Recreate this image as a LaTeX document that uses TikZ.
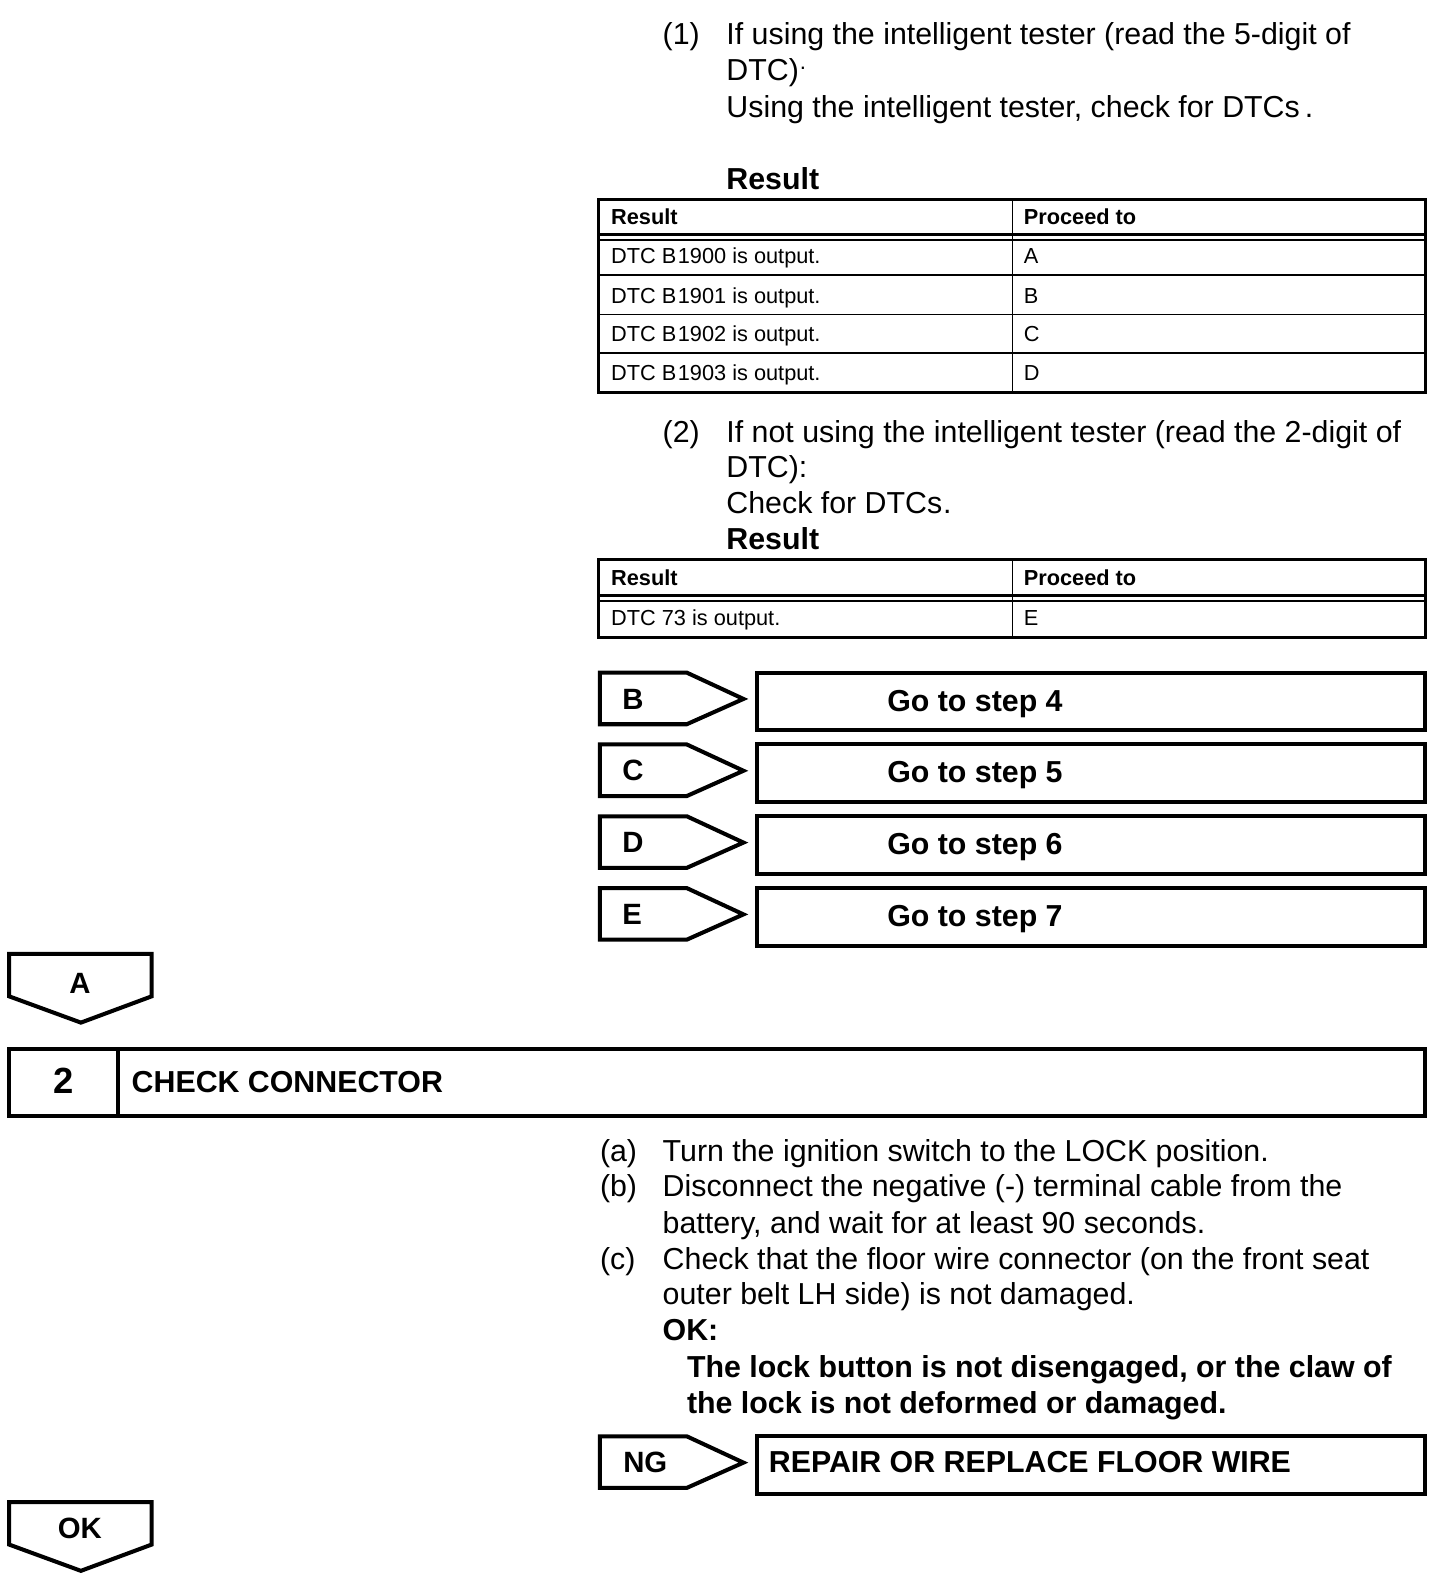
\documentclass[tikz,border=0pt]{standalone}
\usepackage{fontspec}
\setmainfont{Liberation Sans}
\begin{document}
\begin{tikzpicture}[x=1pt,y=-1pt,
  body/.style={anchor=base west, inner sep=0pt, font=\fontsize{30}{36}\selectfont},
  bodyb/.style={anchor=base west, inner sep=0pt, font=\fontsize{30}{36}\selectfont\bfseries},
  cell/.style={anchor=base west, inner sep=0pt, font=\fontsize{21.5}{26}\selectfont},
  cellb/.style={anchor=base west, inner sep=0pt, font=\fontsize{21.5}{26}\selectfont\bfseries},
  tabtext/.style={anchor=base west, inner sep=0pt, font=\fontsize{29}{34}\selectfont\bfseries},
  outerline/.style={line width=2.6pt},
  innerline/.style={line width=1.6pt},
  boxline/.style={line width=4pt, line join=miter},
  htab/.pic={\draw[boxline] (0,0) -- (86,0) -- (142,26) -- (86,51) -- (0,51) -- cycle;},
  vtab/.pic={\draw[boxline] (0,0) -- (141,0) -- (141,42) -- (71,68) -- (0,42) -- cycle;}
]
\useasboundingbox[fill=white] (0,0) rectangle (1439,1568);

% ---- part (1)
\node[body] (n1) at (655,44) {(1)};
\node[body] (t1a) at (718,44) {If using the intelligent tester (read the 5-digit of};
\node[body] (t1b) at (718,80) {DTC)\kern1pt\raisebox{11pt}{\fontsize{22}{22}\selectfont.}};
\node[body] (t1c) at (718,116) {Using the intelligent tester, check for DTCs\,.};
\node[bodyb] (r1) at (718,187) {Result};

% table 1
\draw[outerline] (592,197) rectangle (1409,388);
\draw[outerline] (592,232) -- (1409,232);
\draw[innerline] (592,237) -- (1409,237);
\draw[innerline] (592,272) -- (1409,272);
\draw[innerline] (592,311) -- (1409,311);
\draw[innerline] (592,349) -- (1409,349);
\draw[innerline] (1001,197) -- (1001,388);
\node[cellb] (h1a) at (604,222) {Result};
\node[cellb] (h1b) at (1012,222) {Proceed to};
\node[cell] (c1a) at (604,261) {DTC B\kern1.5pt1900 is output.};
\node[cell] (d1a) at (1012,261) {A};
\node[cell] (c1b) at (604,300) {DTC B\kern1.5pt1901 is output.};
\node[cell] (d1b) at (1012,300) {B};
\node[cell] (c1c) at (604,338) {DTC B\kern1.5pt1902 is output.};
\node[cell] (d1c) at (1012,338) {C};
\node[cell] (c1d) at (604,376) {DTC B\kern1.5pt1903 is output.};
\node[cell] (d1d) at (1012,376) {D};

% ---- part (2)
\node[body] (n2) at (655,437) {(2)};
\node[body] (t2a) at (718,437) {If not using the intelligent tester (read the 2-digit of};
\node[body] (t2b) at (718,472) {DTC):};
\node[body] (t2c) at (718,508) {Check for DTCs\kern1pt.};
\node[bodyb] (r2) at (718,543) {Result};

% table 2
\draw[outerline] (592,553) rectangle (1409,630);
\draw[outerline] (592,589) -- (1409,589);
\draw[innerline] (592,594) -- (1409,594);
\draw[innerline] (1001,553) -- (1001,630);
\node[cellb] (h2a) at (604,579) {Result};
\node[cellb] (h2b) at (1012,579) {Proceed to};
\node[cell] (c2a) at (604,618) {DTC 73 is output.};
\node[cell] (d2a) at (1012,618) {E};

% ---- branch tabs
\foreach \lbl/\stp/\yy in {B/4/665, C/5/736, D/6/807, E/7/878}{
  \pic at (593,\yy) {htab};
  \draw[boxline] (748,\yy) rectangle (1409,\yy+57);
  \node[tabtext] (tab\lbl) at (615,\yy+36) {\lbl};
  \node[tabtext, font=\fontsize{30}{36}\selectfont\bfseries] (go\lbl) at (877,\yy+38) {Go to step \stp};
}

% ---- A tab
\pic at (9,943) {vtab};
\node[tabtext, anchor=base] (tabA) at (79,982) {A};

% ---- step 2 header
\draw[boxline] (9,1037) rectangle (1409,1103);
\draw[boxline] (117,1037) -- (117,1103);
\node[anchor=base, inner sep=0pt, font=\fontsize{36}{40}\selectfont\bfseries] (s2) at (63,1081) {2};
\node[bodyb] (s2t) at (130,1080) {CHECK CONNECTOR};

% ---- step 2 text
\node[body] (la) at (593,1148) {(a)};
\node[body] (ta) at (655,1148) {Turn the ignition switch to the LOCK position.};
\node[body] (lb) at (593,1183) {(b)};
\node[body] (tb1) at (655,1183) {Disconnect the negative (-) terminal cable from the};
\node[body] (tb2) at (655,1219) {battery, and wait for at least 90 seconds.};
\node[body] (lc) at (593,1255) {(c)};
\node[body] (tc1) at (655,1255) {Check that the floor wire connector (on the front seat};
\node[body] (tc2) at (655,1290) {outer belt LH side) is not damaged.};
\node[bodyb] (ok) at (655,1325) {OK:};
\node[bodyb] (okt1) at (679,1362) {The lock button is not disengaged, or the claw of};
\node[bodyb] (okt2) at (679,1397) {the lock is not deformed or damaged.};

% ---- NG tab
\pic at (593,1420) {htab};
\draw[boxline] (748,1420) rectangle (1409,1477);
\node[tabtext] (tabNG) at (616,1456) {NG};
\node[bodyb] (ng) at (760,1456) {REPAIR OR REPLACE FLOOR WIRE};

% ---- OK tab
\pic at (9,1485) {vtab};
\node[tabtext, anchor=base] (tabOK) at (79,1521) {OK};
\end{tikzpicture}
\end{document}
